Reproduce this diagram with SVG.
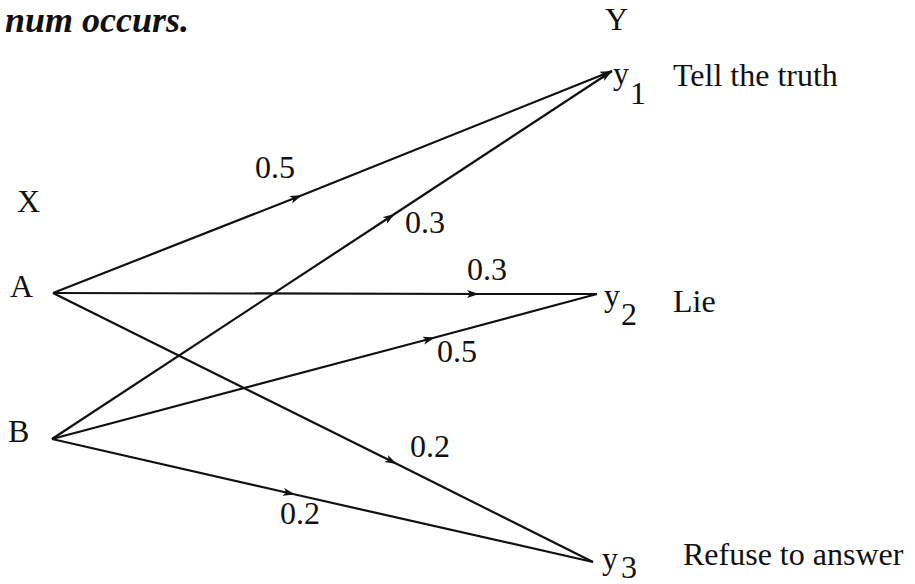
<svg xmlns="http://www.w3.org/2000/svg" width="915" height="584" viewBox="0 0 915 584">
<style>
  text { font-family: "Liberation Serif", "Times New Roman", serif; fill: #111; }
  .lbl { font-size: 32px; }
  .num { font-size: 32px; }
  .head { font-size: 36px; font-weight: bold; font-style: italic; }
  .edge { fill: none; stroke: #111; stroke-width: 2.2; marker-mid: url(#mid); }
</style>
<defs>
  <marker id="mid" markerUnits="userSpaceOnUse" markerWidth="14" markerHeight="10" refX="10" refY="4" orient="auto">
    <path d="M0,0 L12,4 L0,8 L3,4 z" fill="#111"/>
  </marker>
  <marker id="tip" markerUnits="userSpaceOnUse" markerWidth="14" markerHeight="10" refX="12" refY="4" orient="auto">
    <path d="M0,0 L12,4 L0,8 L3,4 z" fill="#111"/>
  </marker>
</defs>
<rect width="915" height="584" fill="#fff"/>
<text class="head" x="5" y="32">num occurs.</text>
<text class="lbl" x="605" y="30">Y</text>
<text class="lbl" x="17" y="212">X</text>

<g id="connectors">
  <path id="A-y1" class="edge" d="M53,293 L300,196 L612,71" marker-end="url(#tip)"/>
  <path id="B-y1" class="edge" d="M52,439 L393,215 L612,71" marker-end="url(#tip)"/>
  <path id="A-y2" class="edge" d="M53,293 L477,294 L597,294"/>
  <path id="B-y2" class="edge" d="M52,439 L433,338 L597,294"/>
  <path id="A-y3" class="edge" d="M53,293 L395,463 L593,562"/>
  <path id="B-y3" class="edge" d="M52,439 L293,494 L593,562"/>
  <text class="num" x="255" y="178">0.5</text>
  <text class="num" x="405" y="233">0.3</text>
  <text class="num" x="467" y="280">0.3</text>
  <text class="num" x="437" y="362">0.5</text>
  <text class="num" x="410" y="457">0.2</text>
  <text class="num" x="280" y="524">0.2</text>
</g>

<g id="A"><text class="lbl" x="10" y="297">A</text></g>
<g id="B"><text class="lbl" x="8" y="442">B</text></g>
<g id="y1">
  <text class="lbl" x="613" y="84">y</text>
  <text class="lbl" x="630" y="104">1</text>
  <text class="lbl" x="673" y="86">Tell the truth</text>
</g>
<g id="y2">
  <text class="lbl" x="604" y="306">y</text>
  <text class="lbl" x="621" y="325">2</text>
  <text class="lbl" x="673" y="312">Lie</text>
</g>
<g id="y3">
  <text class="lbl" x="602" y="569">y</text>
  <text class="lbl" x="621" y="578">3</text>
  <text class="lbl" x="683" y="565">Refuse to answer</text>
</g>
</svg>
